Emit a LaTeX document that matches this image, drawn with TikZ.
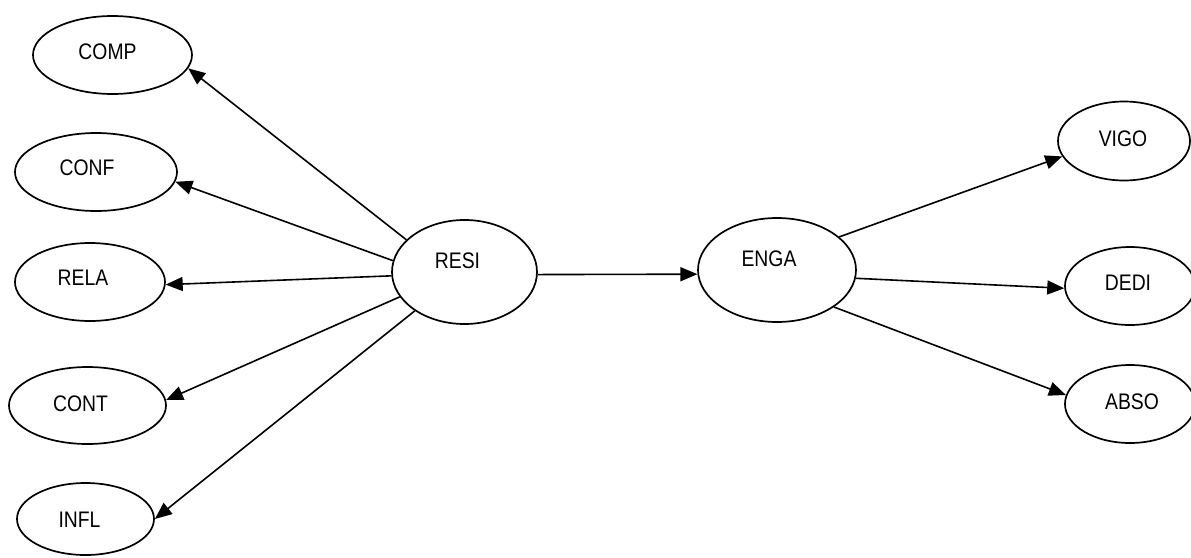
\documentclass[tikz,border=0pt]{standalone}
\usepackage{fontspec}
\setmainfont{Liberation Sans}[FakeStretch=0.86]
\usetikzlibrary{shapes.geometric,arrows.meta}
\newcommand\shiftlbl[3]{\hspace*{#1}\raisebox{#2}[\height][\depth]{#3}\hspace*{-#1}}
\begin{document}
\begin{tikzpicture}[x=1pt,y=-1pt,
  ell/.style={draw, ellipse, line width=1.7pt, inner sep=0pt, font=\fontsize{22.5}{26}\selectfont},
  arr/.style={line width=1.6pt, -{Triangle[length=17pt,width=14pt]}}]
\useasboundingbox (0,0) rectangle (1191,557);
\node[ell, minimum width=159pt, minimum height=78pt] (comp) at (112.5,55) {\shiftlbl{-5pt}{3pt}{COMP}};
\node[ell, minimum width=162pt, minimum height=78pt] (conf) at (96,172) {\shiftlbl{-9pt}{4pt}{CONF}};
\node[ell, minimum width=150pt, minimum height=78pt] (rela) at (90,282) {\shiftlbl{-7pt}{4pt}{RELA}};
\node[ell, minimum width=157pt, minimum height=77pt] (cont) at (87.5,405.5) {\shiftlbl{-7pt}{2pt}{CONT}};
\node[ell, minimum width=137pt, minimum height=72pt] (infl) at (85.5,519) {\shiftlbl{-6pt}{-1pt}{INFL}};
\node[ell, minimum width=145pt, minimum height=104pt] (resi) at (464.5,272) {\shiftlbl{-7pt}{11pt}{RESI}};
\node[ell, minimum width=158pt, minimum height=104pt] (enga) at (777,270) {\shiftlbl{-8pt}{11pt}{ENGA}};
\node[ell, minimum width=132pt, minimum height=79pt] (vigo) at (1124,141) {\shiftlbl{-1pt}{2pt}{VIGO}};
\node[ell, minimum width=130pt, minimum height=78pt] (dedi) at (1130,286) {\shiftlbl{-2pt}{3pt}{DEDI}};
\node[ell, minimum width=130pt, minimum height=78pt] (abso) at (1130,404) {\shiftlbl{2pt}{2pt}{ABSO}};
\draw[arr] (resi.151) -- (comp.-10);
\draw[arr] (resi.171) -- (conf.-7);
\draw[arr] (resi.183) -- (rela.-2);
\draw[arr] (resi.201) -- (cont.4);
\draw[arr] (resi.218) -- (infl.0);
\draw[arr] (resi.-2) -- (enga.183);
\draw[arr] (enga.28) -- (vigo.194);
\draw[arr] (enga.-6) -- (dedi.182);
\draw[arr] (enga.-33) -- (abso.172);
\end{tikzpicture}
\end{document}
